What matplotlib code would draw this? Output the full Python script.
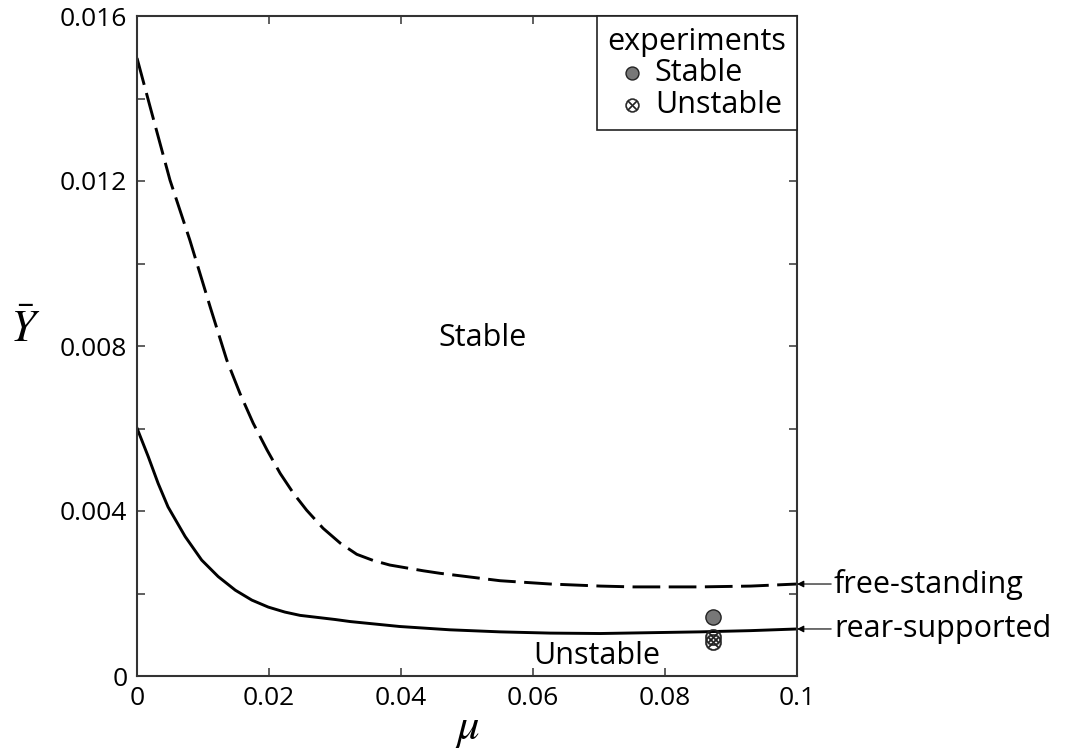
import matplotlib
matplotlib.use('Agg')
import matplotlib.pyplot as plt
from matplotlib.ticker import MultipleLocator, FixedLocator

plt.rcParams['font.family'] = ['Open Sans', 'DejaVu Sans']
plt.rcParams['mathtext.fontset'] = 'stix'

# values
mu_free = [0.0, 0.002, 0.005, 0.008, 0.0111, 0.0136, 0.0156, 0.0176, 0.0197,
           0.0217, 0.0237, 0.0257, 0.0282, 0.0308, 0.0333, 0.0358, 0.0383,
           0.0434, 0.0459, 0.055, 0.0626, 0.0702, 0.0752, 0.0853, 0.093, 0.1]
y_free = [0.01498, 0.01379, 0.01202, 0.01057, 0.00894, 0.00766, 0.00685,
          0.00613, 0.00548, 0.00491, 0.00443, 0.00402, 0.00358, 0.00322,
          0.00295, 0.00280, 0.00269, 0.00255, 0.00249, 0.00231, 0.00223,
          0.00218, 0.00216, 0.00216, 0.00218, 0.00223]

mu_rear = [0.0, 0.0017, 0.0032, 0.0047, 0.0073, 0.0098, 0.0123, 0.0149,
           0.0174, 0.0199, 0.0224, 0.0247, 0.0300, 0.0323, 0.0398, 0.0474,
           0.055, 0.0626, 0.0702, 0.0853, 0.093, 0.1]
y_rear = [0.00601, 0.00532, 0.00467, 0.00410, 0.00338, 0.00281, 0.00241,
          0.00208, 0.00184, 0.00167, 0.00155, 0.00147, 0.00137, 0.00132,
          0.00120, 0.00112, 0.00107, 0.00104, 0.00103, 0.00107, 0.00110,
          0.00114]

mu_stable_exp = [0.0873]
y_stable_exp = [0.00143]
mu_unstable_exp = [0.0873, 0.0873]
y_unstable_exp = [0.00095, 0.00082]

x_ticks = [0, 0.02, 0.04, 0.06, 0.08, 0.1]
x_ticklabels = ['0', '0.02', '0.04', '0.06', '0.08', '0.1']
y_ticks = [0, 0.004, 0.008, 0.012, 0.016]
y_ticklabels = ['0', '0.004', '0.008', '0.012', '0.016']

fig = plt.figure(figsize=(10.68, 7.52), dpi=100)
ax = fig.add_axes([137 / 1068, 1 - 676 / 752, 660 / 1068, 660 / 752])

ax.plot(mu_free, y_free, color='black', lw=2.1, dashes=(9.5, 2.9),
        solid_joinstyle='round', dash_joinstyle='round')
ax.plot(mu_rear, y_rear, color='black', lw=2.1, solid_joinstyle='round')

ax.scatter(mu_stable_exp, y_stable_exp, s=120, facecolor='#777777',
           edgecolor='#222222', lw=1, zorder=5, label='Stable')
ax.scatter(mu_unstable_exp, y_unstable_exp, s=140, marker=r'$\otimes$',
           color='#222222', lw=0.3, zorder=5, label='Unstable')

ax.set_xlim(0, 0.1)
ax.set_ylim(0, 0.016)
ax.xaxis.set_major_locator(FixedLocator(x_ticks))
ax.set_xticklabels(x_ticklabels)
ax.yaxis.set_major_locator(FixedLocator(y_ticks))
ax.set_yticklabels(y_ticklabels)
ax.yaxis.set_minor_locator(MultipleLocator(0.002))
ax.tick_params(which='both', direction='in', top=True, right=True,
               length=6, width=1.2, color='#444444', labelsize=19, pad=7)

for sp in ax.spines.values():
    sp.set_linewidth(1.5)
    sp.set_color('#333333')

ax.set_xlabel(r'$\mu$', fontsize=32, labelpad=-4)
ax.set_ylabel(r'$\bar{Y}$', fontsize=32, rotation=0)
ax.yaxis.set_label_coords(-0.17, 0.49)

ax.text(0.0523, 0.0082, 'Stable', fontsize=22, ha='center', va='center')
ax.text(0.0697, 0.00048, 'Unstable', fontsize=22, ha='center', va='center')

ax.annotate('free-standing', xy=(0.1, 0.00223), xytext=(1.056, 0.00223),
            textcoords=('axes fraction', 'data'), fontsize=22, va='center',
            annotation_clip=False,
            arrowprops=dict(arrowstyle='-|>', color='black', lw=0.8,
                            mutation_scale=10, shrinkA=0, shrinkB=0))
ax.annotate('rear-supported', xy=(0.1, 0.00114), xytext=(1.056, 0.00114),
            textcoords=('axes fraction', 'data'), fontsize=22, va='center',
            annotation_clip=False,
            arrowprops=dict(arrowstyle='-|>', color='black', lw=0.8,
                            mutation_scale=10, shrinkA=0, shrinkB=0))

leg = ax.legend(loc='upper right', title='experiments', fontsize=22,
                title_fontsize=22, frameon=True, fancybox=False,
                edgecolor='#222222', framealpha=1, borderaxespad=0,
                handletextpad=0.1, handlelength=1.3, borderpad=0.35,
                labelspacing=0.05, scatterpoints=1, markerscale=0.85)
leg.get_frame().set_linewidth(1.2)

plt.savefig('out.png', dpi=100)
plt.close()
